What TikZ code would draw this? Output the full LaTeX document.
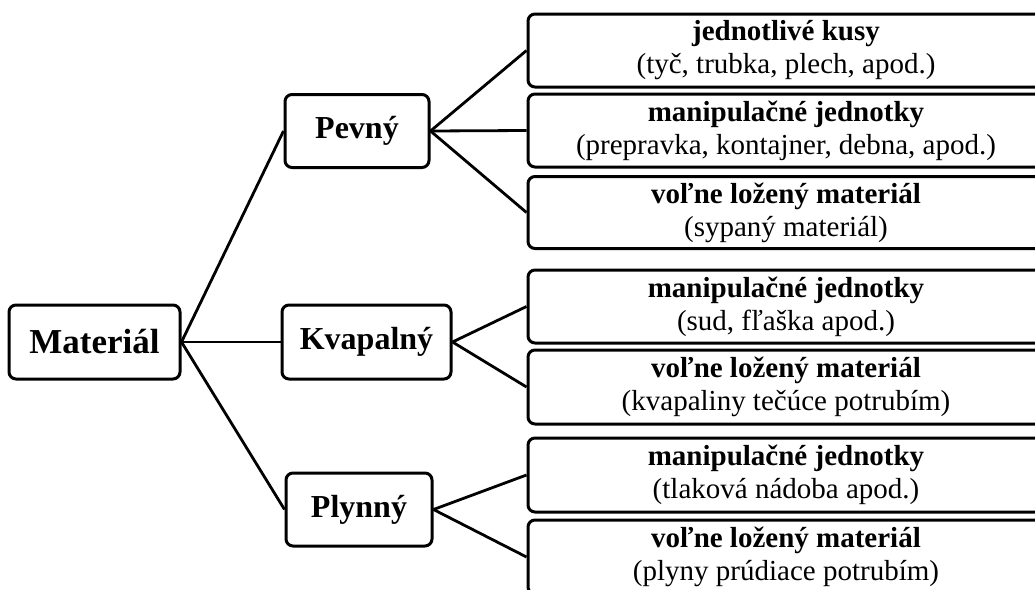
\documentclass[tikz,border=0pt]{standalone}
\usepackage{fontspec}
\setmainfont{Liberation Serif}
\begin{document}
\begin{tikzpicture}[x=1pt, y=-1pt,
  box/.style={draw, line width=3pt, rounded corners=7pt, inner sep=0pt,
    align=center, font=\bfseries},
  root/.style={box, minimum width=171pt, minimum height=74pt,
    font=\fontsize{35}{40}\selectfont\bfseries},
  kind/.style={box, minimum height=73pt,
    font=\fontsize{32}{37}\selectfont\bfseries},
  leaf/.style={box, minimum width=516pt, minimum height=73pt,
    font=\fontsize{29}{33}\selectfont},
  link/.style={line width=2.8pt}]
\clip (0,0) rectangle (1035,589);

% root
\node[root] (mat) at (94.5,342) {Materiál};

% states of matter
\node[kind, minimum width=144pt] (pev) at (357,131) {Pevný};
\node[kind, minimum width=169pt, minimum height=74pt] (kva) at (366.5,342) {Kvapalný};
\node[kind, minimum width=146pt] (ply) at (359,509.5) {Plynný};

% solid
\node[leaf] (p1) at (786,50.5) {\textbf{jednotlivé kusy}\\(tyč, trubka, plech, apod.)};
\node[leaf] (p2) at (786,130.5) {\textbf{manipulačné jednotky}\\(prepravka, kontajner, debna, apod.)};
\node[leaf, minimum height=72pt] (p3) at (786,212.5) {\textbf{voľne ložený materiál}\\(sypaný materiál)};

% liquid
\node[leaf] (k1) at (786,306.5) {\textbf{manipulačné jednotky}\\(sud, fľaška apod.)};
\node[leaf, minimum height=74pt] (k2) at (786,387) {\textbf{voľne ložený materiál}\\(kvapaliny tečúce potrubím)};

% gas
\node[leaf, minimum height=74pt] (g1) at (786,475) {\textbf{manipulačné jednotky}\\(tlaková nádoba apod.)};
\node[leaf, minimum height=74pt] (g2) at (786,557) {\textbf{voľne ložený materiál}\\(plyny prúdiace potrubím)};

% connectors
\foreach \t in {pev,kva,ply} \draw[link] (mat.east) -- (\t.west);
\foreach \t in {p1,p2,p3} \draw[link] (pev.east) -- (\t.west);
\foreach \t in {k1,k2} \draw[link] (kva.east) -- (\t.west);
\foreach \t in {g1,g2} \draw[link] (ply.east) -- (\t.west);
\end{tikzpicture}
\end{document}
